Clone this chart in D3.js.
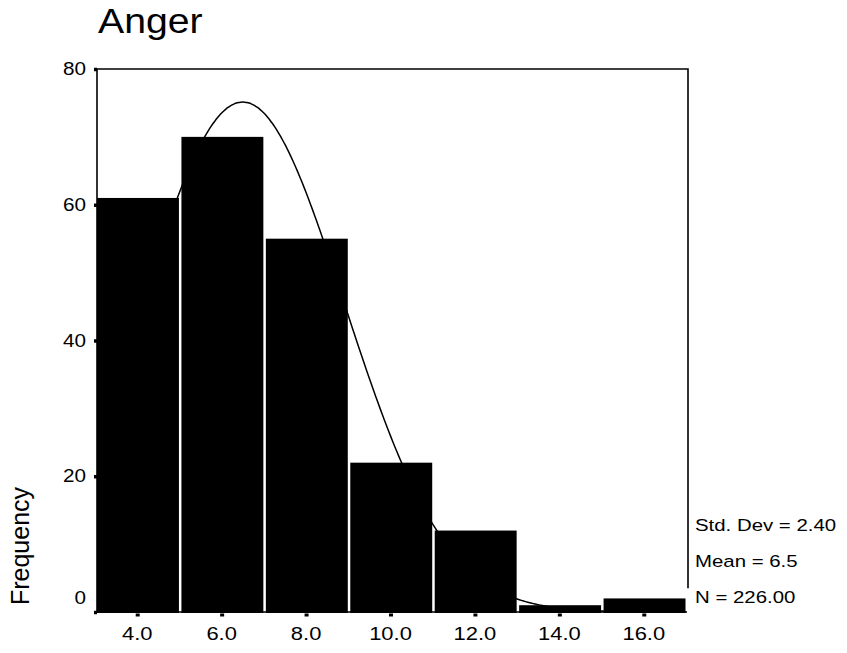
<!DOCTYPE html>
<html>
<head>
<meta charset="utf-8">
<script src="https://d3js.org/d3.v7.min.js"></script>
<style>
    body { margin: 0; background: #fff; }
    text { font-family: Arial, "Liberation Sans", sans-serif; fill: #000; }
</style>
</head>
<body>
<svg id="chart" width="847" height="653"></svg>
<script>
// bins of the histogram (lower edge, upper edge) and their counts
let binStarts = [3, 5, 7, 9, 11, 13, 15];
let binEnds = [5, 7, 9, 11, 13, 15, 17];
let counts = [61, 70, 55, 22, 12, 1, 2];

let xTicks = [4, 6, 8, 10, 12, 14, 16];
let yTicks = [0, 20, 40, 60, 80];

// summary figures printed next to the chart
let statLabels = ["Std. Dev = 2.40", "Mean = 6.5", "N = 226.00"];
let stdDev = 2.40;
let mean = 6.5;
let n = 226;

let svg = d3.select("#chart");

let xScale = d3.scaleLinear()
               .domain([3, 17])
               .range([95, 686]);
let yScale = d3.scaleLinear()
               .domain([0, 80])
               .range([612, 69]);

// scanned text looks wider than normal, so stretch it a bit
function addText(x, y, str, size, anchor, stretch) {
    let g = svg.append("g").attr("transform", "translate(" + x + "," + y + ")");
    g.append("text")
     .attr("transform", "scale(" + stretch + ",1)")
     .attr("text-anchor", anchor)
     .style("font-size", size + "px")
     .text(str);
    return g;
}

// title
addText(98, 33, "Anger", 35, "start", 1.12);

// keep the curve inside the frame
svg.append("clipPath")
   .attr("id", "plotClip")
   .append("rect")
   .attr("x", xScale(3) + 3)
   .attr("y", yScale(80))
   .attr("width", xScale(17) - xScale(3) - 3)
   .attr("height", yScale(0) - yScale(80));

// normal curve (drawn first, the bars cover it)
let binWidth = 2;
let curvePts = d3.range(3, 17.001, 0.05).map(function(v) {
    let z = (v - mean) / stdDev;
    return [v, n * binWidth * Math.exp(-0.5 * z * z) / (stdDev * Math.sqrt(2 * Math.PI))];
});
let line = d3.line()
             .x(d => xScale(d[0]))
             .y(d => yScale(d[1]))
             .curve(d3.curveBasis);
svg.append("path")
   .datum(curvePts)
   .attr("d", line)
   .attr("clip-path", "url(#plotClip)")
   .attr("fill", "none")
   .attr("stroke", "#000")
   .attr("stroke-width", 1.5);

// frame
svg.append("path")
   .attr("d", "M" + (xScale(3) + 2) + "," + yScale(80) +
              " H" + (xScale(17) + 2) +
              " V" + (yScale(3.5)) +
              " M" + (xScale(3) + 2) + "," + yScale(80) +
              " V" + yScale(0) +
              " H" + (xScale(17) + 1))
   .attr("fill", "none")
   .attr("stroke", "#000")
   .attr("stroke-width", 1.6);

// bars
svg.append("g")
   .selectAll("rect")
   .data(counts)
   .enter().append("rect")
   .attr("x", (d, i) => xScale(binStarts[i]) + 2)
   .attr("y", d => yScale(d))
   .attr("width", (d, i) => xScale(binEnds[i]) - xScale(binStarts[i]) - 2.5)
   .attr("height", d => yScale(0) - yScale(d) + 1)
   .style("fill", "#000");

// y axis: small square ticks, labels placed by hand so they can be stretched
let yAxis = d3.axisLeft(yScale).tickValues(yTicks).tickSize(3).tickFormat("");
let yG = svg.append("g")
            .attr("transform", "translate(" + (xScale(3) + 2) + ",0)")
            .call(yAxis);
yG.select(".domain").remove();
yG.selectAll(".tick line").attr("stroke-width", 3.5);

yTicks.forEach(function(t) {
    // the 0 label sits a little above its tick
    let yy = yScale(t) + 6 - (t === 0 ? 14 : 0);
    addText(86, yy, t, 18, "end", 1.15);
});

// x axis
let xAxis = d3.axisBottom(xScale).tickValues(xTicks).tickSize(3).tickFormat("");
let xG = svg.append("g")
            .attr("transform", "translate(0," + (yScale(0) + 1.5) + ")")
            .call(xAxis);
xG.select(".domain").remove();
xG.selectAll(".tick line").attr("stroke-width", 4);

xTicks.forEach(function(t) {
    addText(xScale(t), 640, d3.format(".1f")(t), 18, "middle", 1.22);
});

// axis title
svg.append("text")
   .attr("transform", "translate(29,546) rotate(-90)")
   .attr("text-anchor", "middle")
   .style("font-size", "25px")
   .text("Frequency");

// summary statistics
statLabels.forEach(function(s, i) {
    addText(695, 531 + i * 36, s, 17, "start", 1.2);
});
</script>
</body>
</html>
